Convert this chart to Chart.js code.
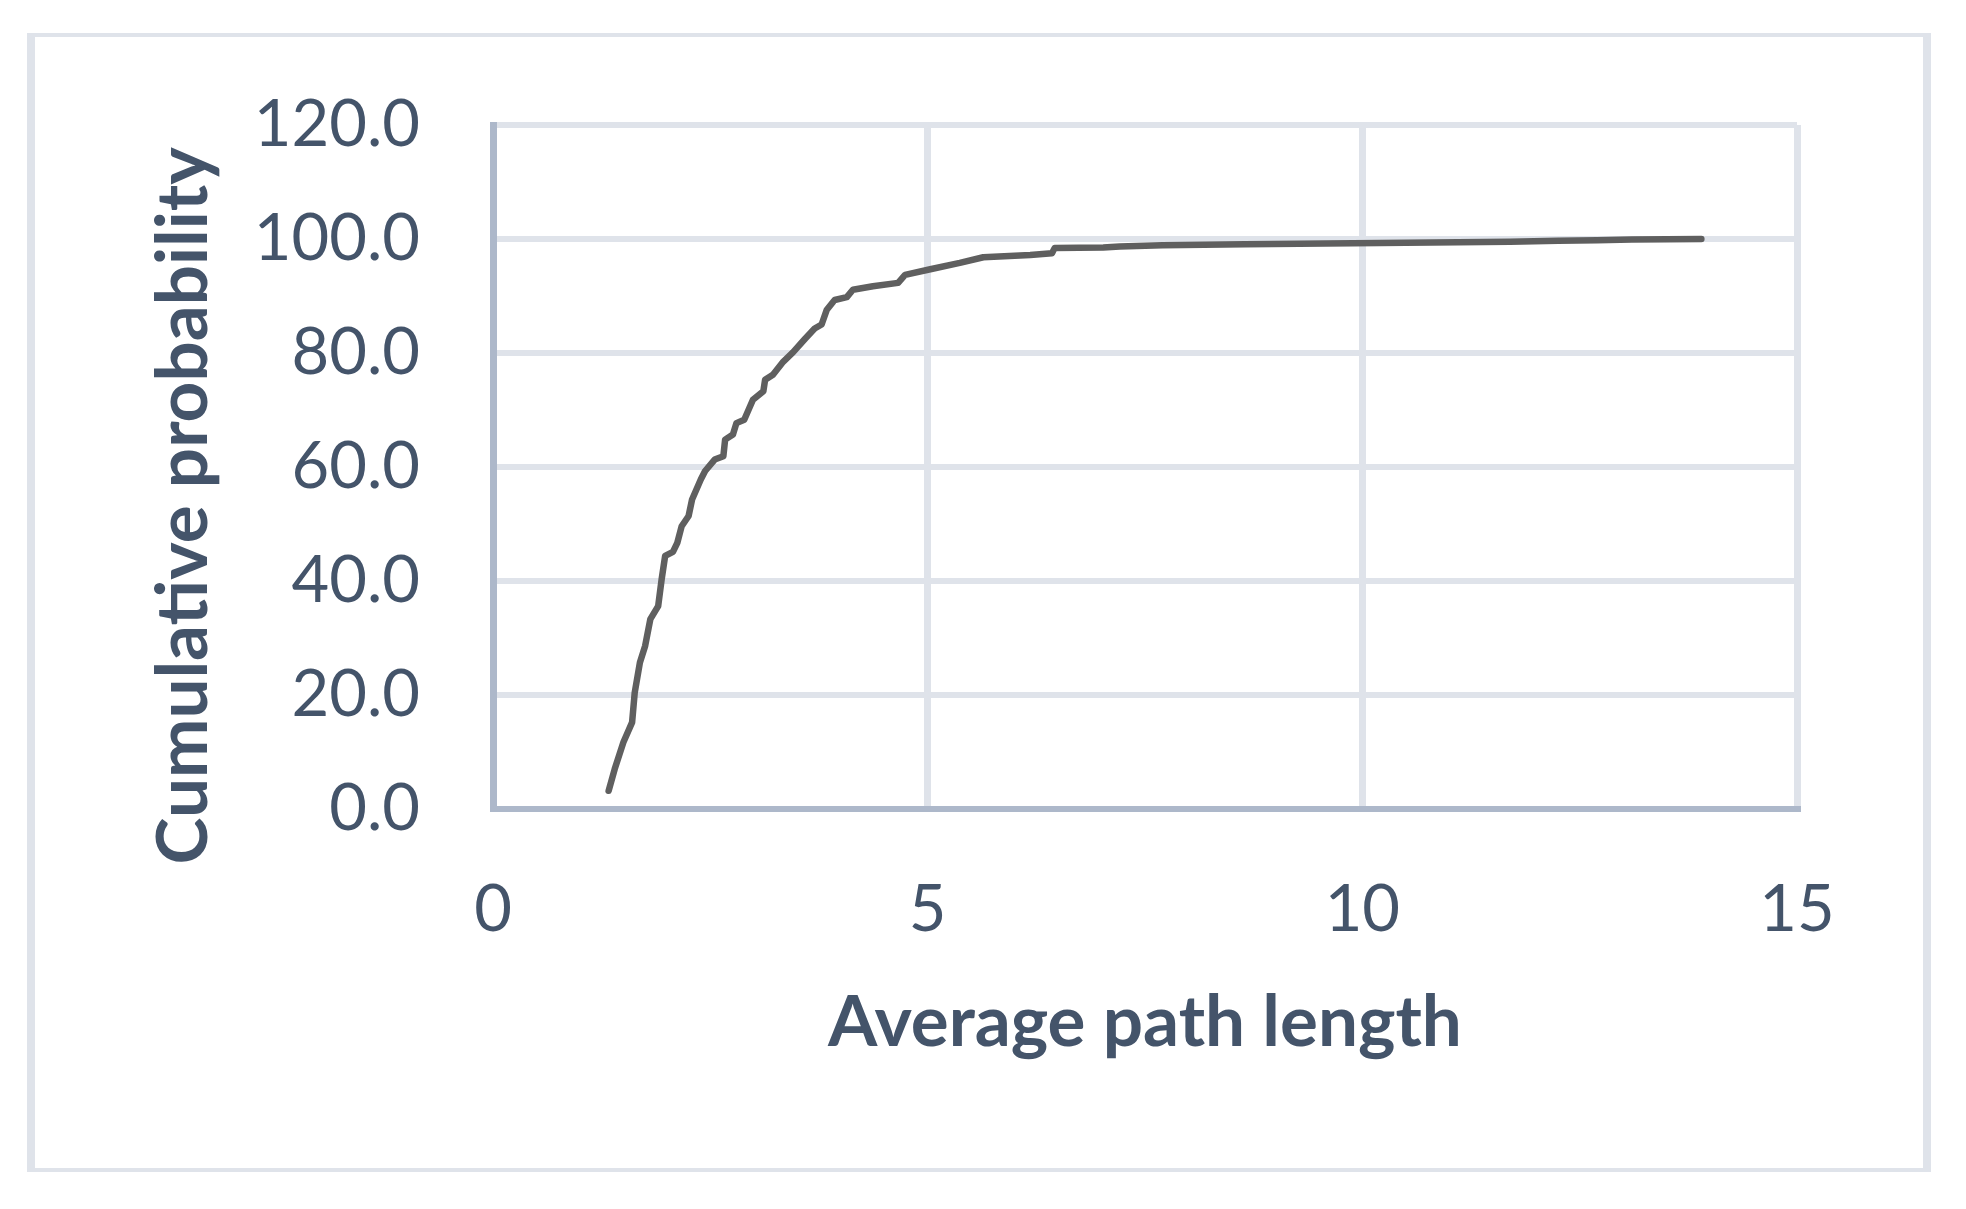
<!DOCTYPE html>
<html lang="en">
<head>
  <meta charset="UTF-8" />
  <title>Cumulative probability of average path length</title>
  <script src="https://cdn.jsdelivr.net/npm/chart.js"></script>
  <style>
    html, body { margin: 0; padding: 0; background: #fff; }
    #frame {
      position: absolute; left: 27px; top: 33px;
      width: 1904px; height: 1139px; box-sizing: border-box;
      border-style: solid; border-color: #dfe3ea;
      border-width: 4px 8px 4px 8px;
    }
    #chart { position: absolute; left: 0; top: 0; }
  </style>
</head>
<body>
  <div id="frame"></div>
  <canvas id="chart" width="1966" height="1209"></canvas>

  <script>
    // data (average path length -> cumulative %)
    const pathLength = [
      1.33, 1.40, 1.50, 1.60, 1.63, 1.69, 1.75, 1.81, 1.90, 1.94, 1.98, 2.07,
      2.12, 2.17, 2.25, 2.29, 2.39, 2.44, 2.55, 2.65, 2.67, 2.76, 2.80, 2.89,
      2.99, 3.11, 3.13, 3.22, 3.34, 3.45, 3.59, 3.70, 3.78, 3.84, 3.93, 4.07,
      4.14, 4.37, 4.66, 4.74, 5.03, 5.37, 5.64, 6.18, 6.43, 6.46, 7.02, 7.21,
      7.70, 8.65, 10.2, 11.7, 12.25, 12.7, 13.1, 13.9
    ];
    const cumProb = [
      3.2, 7.0, 11.7, 15.2, 20.4, 25.7, 28.6, 33.3, 35.6, 40.3, 44.4, 45.1,
      46.7, 49.6, 51.4, 54.3, 57.8, 59.3, 61.3, 61.9, 64.8, 65.7, 67.7, 68.3,
      71.8, 73.3, 75.3, 76.2, 78.5, 80.1, 82.5, 84.3, 85.0, 87.6, 89.3, 89.8,
      91.1, 91.7, 92.3, 93.7, 94.7, 95.8, 96.8, 97.2, 97.5, 98.4, 98.5, 98.7,
      98.9, 99.1, 99.3, 99.5, 99.7, 99.8, 99.9, 100.0
    ];
    const xTicks = [0, 5, 10, 15];
    const yTicks = [0, 20, 40, 60, 80, 100, 120];
    const xTitle = "Average path length";
    const yTitle = "Cumulative probability";

    const textColor = "#44546a";
    const gridColor = "#dfe3ea";
    const axisColor = "#adb8ca";

    const points = pathLength.map((x, i) => ({ x: x, y: cumProb[i] }));

    // axis titles drawn by hand so they sit where the original has them
    const axisTitles = {
      id: "axisTitles",
      afterDraw(chart) {
        const { ctx, chartArea } = chart;
        ctx.save();
        ctx.fillStyle = textColor;
        ctx.font = "bold 71px Lato";
        ctx.textAlign = "center";
        ctx.textBaseline = "alphabetic";
        ctx.fillText(xTitle, (chartArea.left + chartArea.right) / 2, chartArea.bottom + 237);
        ctx.translate(207, 506);
        ctx.rotate(-Math.PI / 2);
        ctx.fillText(yTitle, 0, 0);
        ctx.restore();
      }
    };

    new Chart(document.getElementById("chart"), {
      type: "scatter",
      data: {
        datasets: [{
          data: points,
          showLine: true,
          pointRadius: 0,
          borderColor: "#5f5f5f",
          borderWidth: 6.5,
          borderCapStyle: "round",
          borderJoinStyle: "round",
          tension: 0
        }]
      },
      options: {
        responsive: false,
        animation: false,
        layout: { padding: { left: 0, top: 125, right: 169, bottom: 0 } },
        plugins: { legend: { display: false }, tooltip: { enabled: false } },
        scales: {
          x: {
            type: "linear",
            min: xTicks[0],
            max: xTicks[xTicks.length - 1],
            afterBuildTicks: s => { s.ticks = xTicks.map(v => ({ value: v })); },
            afterFit: s => { s.height = 400; },
            ticks: { color: textColor, font: { family: "Lato", size: 65 }, padding: 62, maxRotation: 0 },
            grid: { color: gridColor, lineWidth: 7, drawTicks: false },
            border: { color: axisColor, width: 6 }
          },
          y: {
            min: yTicks[0],
            max: yTicks[yTicks.length - 1],
            afterBuildTicks: s => { s.ticks = yTicks.map(v => ({ value: v })); },
            afterFit: s => { s.width = 493; },
            ticks: {
              color: textColor, font: { family: "Lato", size: 65 }, padding: 73,
              callback: v => v.toFixed(1)
            },
            grid: { color: gridColor, lineWidth: 6, drawTicks: false },
            border: { color: axisColor, width: 7 }
          }
        }
      },
      plugins: [axisTitles]
    });
  </script>
</body>
</html>
